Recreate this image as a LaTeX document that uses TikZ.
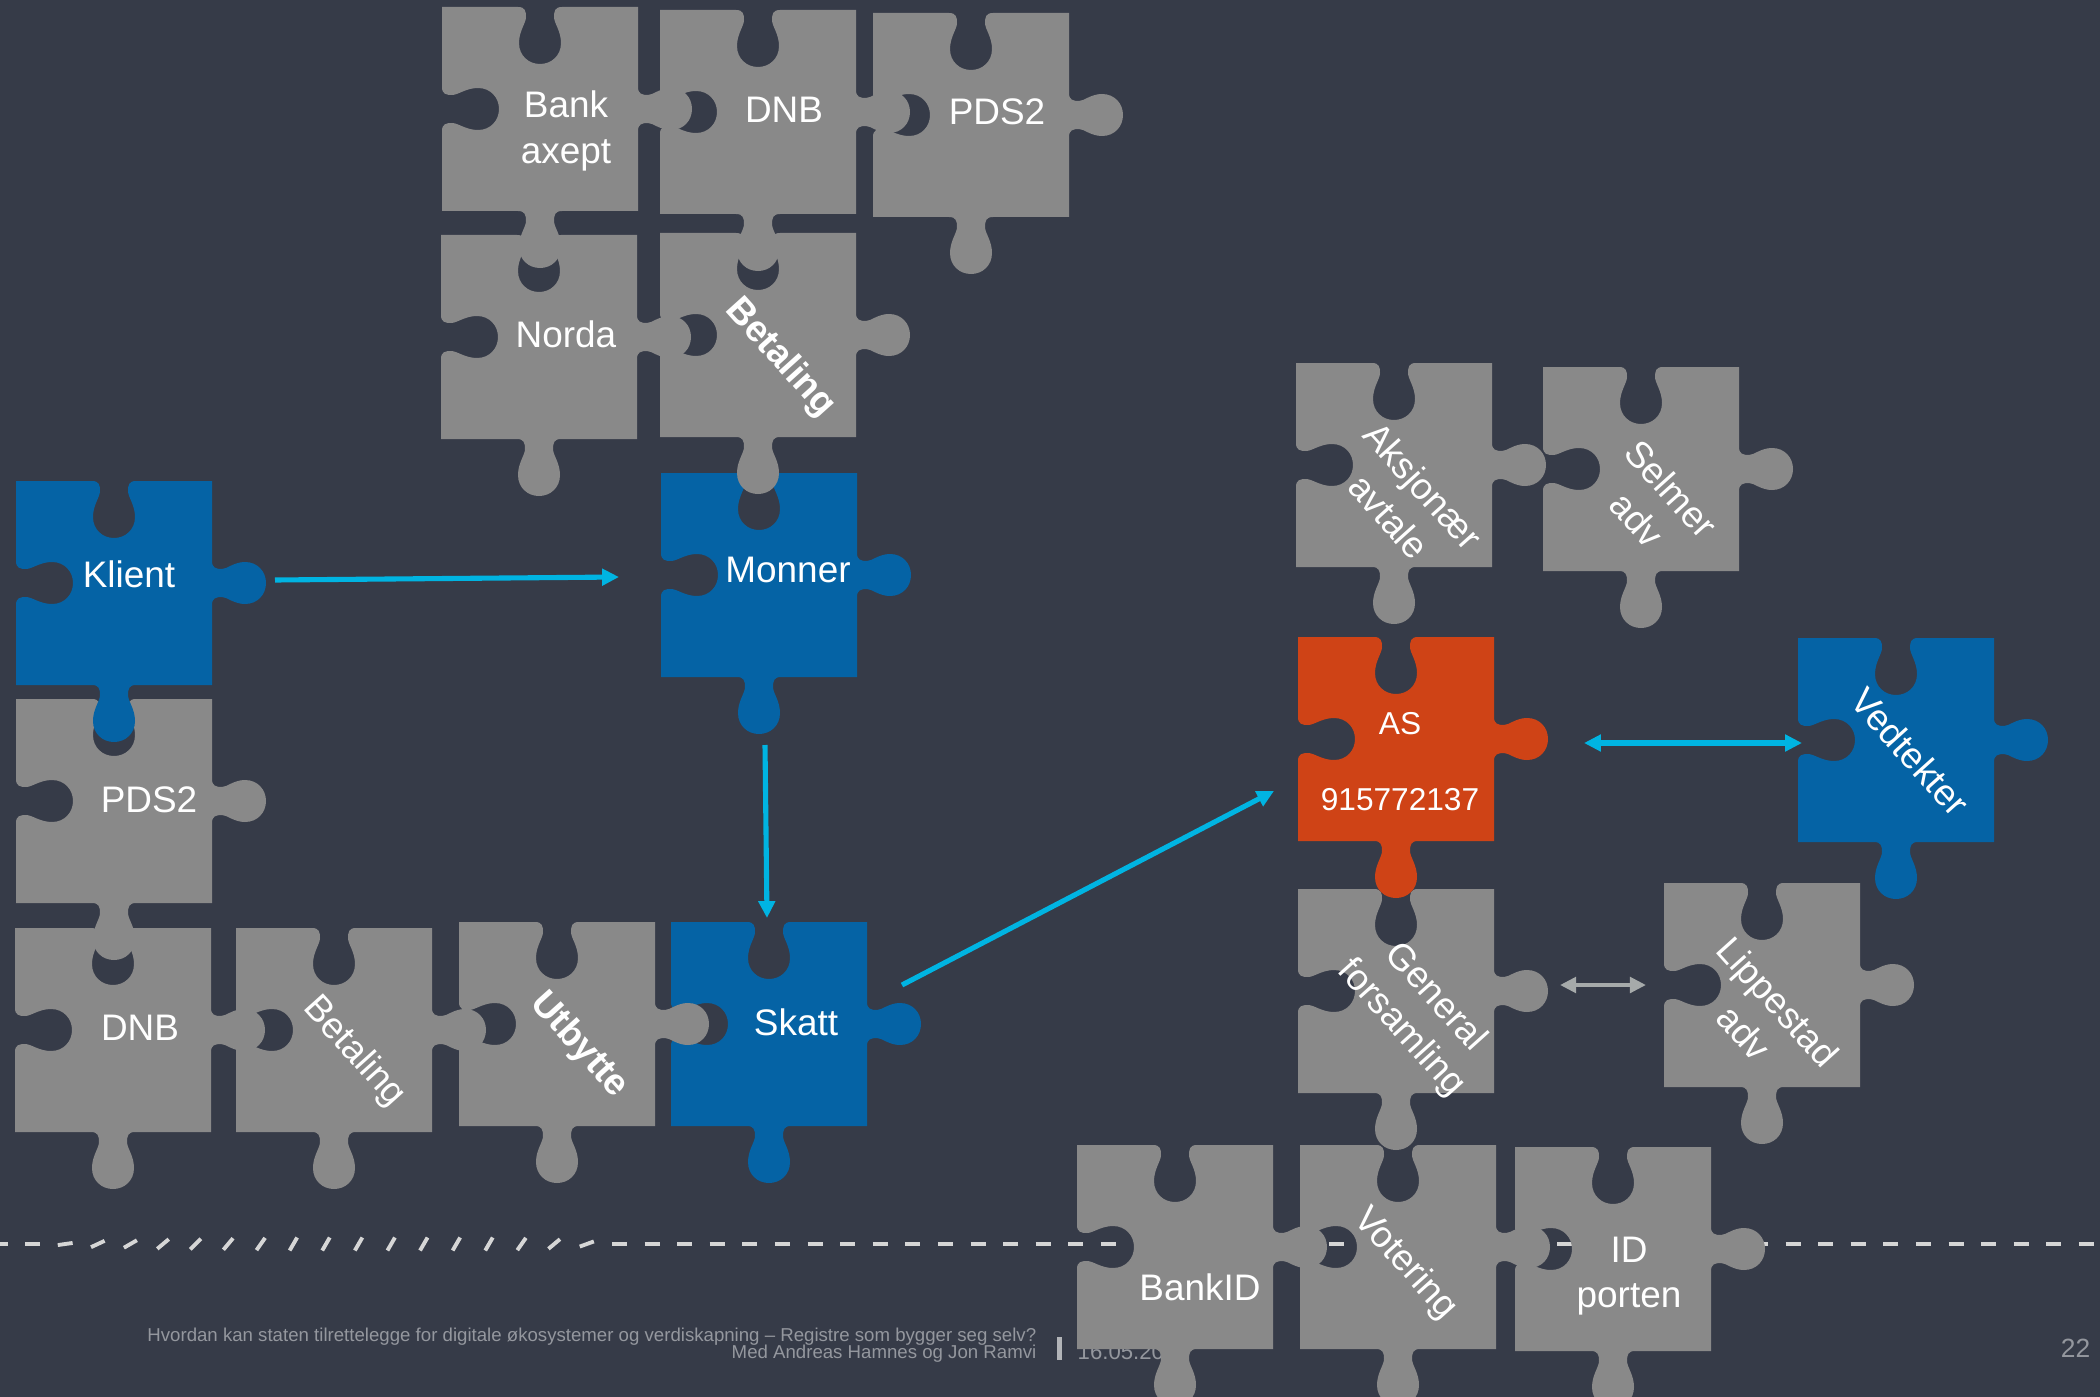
\documentclass[tikz,border=0pt]{standalone}
\usepackage{fontspec}
\setmainfont{Liberation Sans}
\usetikzlibrary{arrows.meta}
\definecolor{bg}{RGB}{54,59,72}
\definecolor{pgray}{RGB}{137,137,137}
\definecolor{pblue}{RGB}{5,99,165}
\definecolor{porange}{RGB}{207,67,22}
\definecolor{acyan}{RGB}{0,180,226}
\definecolor{agray}{RGB}{166,170,170}
\definecolor{ftext}{RGB}{148,151,158}
\definecolor{fbar}{RGB}{178,180,184}
\definecolor{dashc}{RGB}{214,214,214}
\newcommand{\puzzlepiece}[3]{%
\fill[#3,shift={(#1,#2)}] (0,0) -- (76,0)
 .. controls (83,0) and (84,4) .. (84,10)
 .. controls (84,16) and (77,24) .. (77,36)
 .. controls (77,49) and (87,57) .. (98,57)
 .. controls (109,57) and (119,49) .. (119,36)
 .. controls (119,24) and (112,16) .. (112,10)
 .. controls (112,4) and (113,0) .. (120,0)
 -- (196,0) -- (196,80)
 .. controls (196,87) and (200,88) .. (206,88)
 .. controls (211,88) and (218,81) .. (229,81)
 .. controls (242,81) and (250,91) .. (250,102)
 .. controls (250,113) and (242,123) .. (229,123)
 .. controls (218,123) and (211,116) .. (206,116)
 .. controls (200,116) and (196,117) .. (196,124)
 -- (196,204) -- (120,204)
 .. controls (113,204) and (112,208) .. (112,214)
 .. controls (112,220) and (119,228) .. (119,240)
 .. controls (119,253) and (109,261) .. (98,261)
 .. controls (87,261) and (77,253) .. (77,240)
 .. controls (77,228) and (84,220) .. (84,214)
 .. controls (84,208) and (83,204) .. (76,204)
 -- (0,204) -- (0,124)
 .. controls (0,117) and (4,116) .. (10,116)
 .. controls (16,116) and (24,123) .. (36,123)
 .. controls (49,123) and (57,113) .. (57,102)
 .. controls (57,91) and (49,81) .. (36,81)
 .. controls (24,81) and (16,88) .. (10,88)
 .. controls (4,88) and (0,87) .. (0,80)
 -- cycle;}
\tikzset{
  lbl/.style={text=white, font=\fontsize{10.5}{13}\selectfont, align=center, inner sep=0pt},
  lblrot/.style={lbl, rotate=-48},
  lblsmall/.style={text=white, font=\fontsize{9}{11}\selectfont, inner sep=0pt},
  foot/.style={text=ftext, font=\fontsize{5.3}{6}\selectfont, inner sep=0pt},
  dashmark/.style={draw=dashc, line width=1.1pt},
  conn/.style={draw=acyan, line width=1.45pt, -{Triangle[length=4.8pt,width=4.6pt]}},
  conntwo/.style={draw=acyan, line width=1.45pt, {Triangle[length=4.8pt,width=4.6pt]}-{Triangle[length=4.8pt,width=4.6pt]}},
  conngray/.style={draw=agray, line width=1.3pt, {Triangle[length=4.6pt,width=4.4pt]}-{Triangle[length=4.6pt,width=4.4pt]}}
}
\begin{document}
\begin{tikzpicture}[x=0.01cm, y=-0.01cm]
\fill[bg] (0,0) rectangle (2100,1397);
\useasboundingbox (0,0) rectangle (2100,1397);
% dashed separator line
\foreach \k/\a in {0/0,1/0,2/8,3/25,4/30,5/40,6/45,7/50,8/55,9/60,10/60,11/60,12/60,13/60,14/60,15/60,16/55,17/40,18/20}
  \draw[dashmark, shift={(32.6*\k,1244)}, rotate=\a] (-7.5,0) -- (7.5,0);
\foreach \k in {19,...,64}
  \draw[dashmark, shift={(32.6*\k,1244)}] (-7.5,0) -- (7.5,0);
% footer
\node[foot, anchor=base east] (foot1) at (1037,1341) {Hvordan kan staten tilrettelegge for digitale økosystemer og verdiskapning – Registre som bygger seg selv?};
\node[foot, anchor=base east] (foot2) at (1037,1358) {Med Andreas Hamnes og Jon Ramvi};
\fill[fbar] (1057,1337) rectangle (1062,1360);
\node[text=ftext, font=\fontsize{6.3}{8}\selectfont, inner sep=0pt, anchor=base west] (date) at (1077,1359) {16.05.2019};
\node[text=ftext, font=\fontsize{7.5}{9}\selectfont, inner sep=0pt, anchor=base east] (pagenum) at (2091,1357) {22};
% pieces
\puzzlepiece{442}{7}{pgray}
\puzzlepiece{660}{10}{pgray}
\puzzlepiece{873}{13}{pgray}
\puzzlepiece{441}{235}{pgray}
\puzzlepiece{661}{473}{pblue}
\puzzlepiece{660}{233}{pgray}
\puzzlepiece{16}{699}{pgray}
\puzzlepiece{16}{481}{pblue}
\puzzlepiece{15}{928}{pgray}
\puzzlepiece{236}{928}{pgray}
\puzzlepiece{671}{922}{pblue}
\puzzlepiece{459}{922}{pgray}
\puzzlepiece{1296}{363}{pgray}
\puzzlepiece{1543}{367}{pgray}
\puzzlepiece{1298}{889}{pgray}
\puzzlepiece{1298}{637}{porange}
\puzzlepiece{1798}{638}{pblue}
\puzzlepiece{1664}{883}{pgray}
\puzzlepiece{1077}{1145}{pgray}
\puzzlepiece{1300}{1145}{pgray}
\puzzlepiece{1515}{1147}{pgray}
% labels
\node[lbl] (bankaxept) at (566,131) {Bank\\axept};
\node[lbl] (dnbtop) at (784,110) {DNB};
\node[lbl] (pdstop) at (997,112) {PDS2};
\node[lbl] (norda) at (566,334) {Norda};
\node[lblrot, font=\fontsize{10.5}{13}\selectfont\bfseries] (bettop) at (780,358) {Betaling};
\node[lbl] (klient) at (129,574) {Klient};
\node[lbl] (monner) at (788,570) {Monner};
\node[lbl] (pdsleft) at (149,800) {PDS2};
\node[lbl] (dnbbot) at (140,1028) {DNB};
\node[lblrot] (betbot) at (354,1052) {Betaling};
\node[lblrot, font=\fontsize{10.5}{13}\selectfont\bfseries] (utbytte) at (579,1045) {Utbytte};
\node[lbl] (skatt) at (796,1022) {Skatt};
\node[lblrot] (aksjonaer) at (1406,501) {Aksjonær\\avtale};
\node[lblrot] (selmer) at (1654,504) {Selmer\\adv};
\node[lblsmall] (as) at (1400,724) {AS};
\node[lblsmall] (orgnr) at (1400,800) {915772137};
\node[lblrot] (vedtekter) at (1910,752) {Vedtekter};
\node[lblrot] (general) at (1418,1013) {General\\forsamling};
\node[lblrot] (lippestad) at (1761,1017) {Lippestad\\adv};
\node[lbl] (bankid) at (1200,1287) {BankID};
\node[lblrot] (votering) at (1405,1264) {Votering};
\node[lbl] (idporten) at (1629,1276) {ID\\porten};
% connectors
\coordinate (klientout) at (275,580);
\coordinate (monnerin) at (619,577);
\coordinate (monnerout) at (765,745);
\coordinate (skattin) at (767,918);
\coordinate (skattout) at (902,985);
\coordinate (asin) at (1274,791);
\coordinate (asout) at (1584,743);
\coordinate (vedtin) at (1802,743);
\coordinate (genout) at (1560,985);
\coordinate (lipin) at (1646,985);
\draw[conn] (klientout) -- (monnerin);
\draw[conn] (monnerout) -- (skattin);
\draw[conn] (skattout) -- (asin);
\draw[conntwo] (asout) -- (vedtin);
\draw[conngray] (genout) -- (lipin);
\end{tikzpicture}
\end{document}
